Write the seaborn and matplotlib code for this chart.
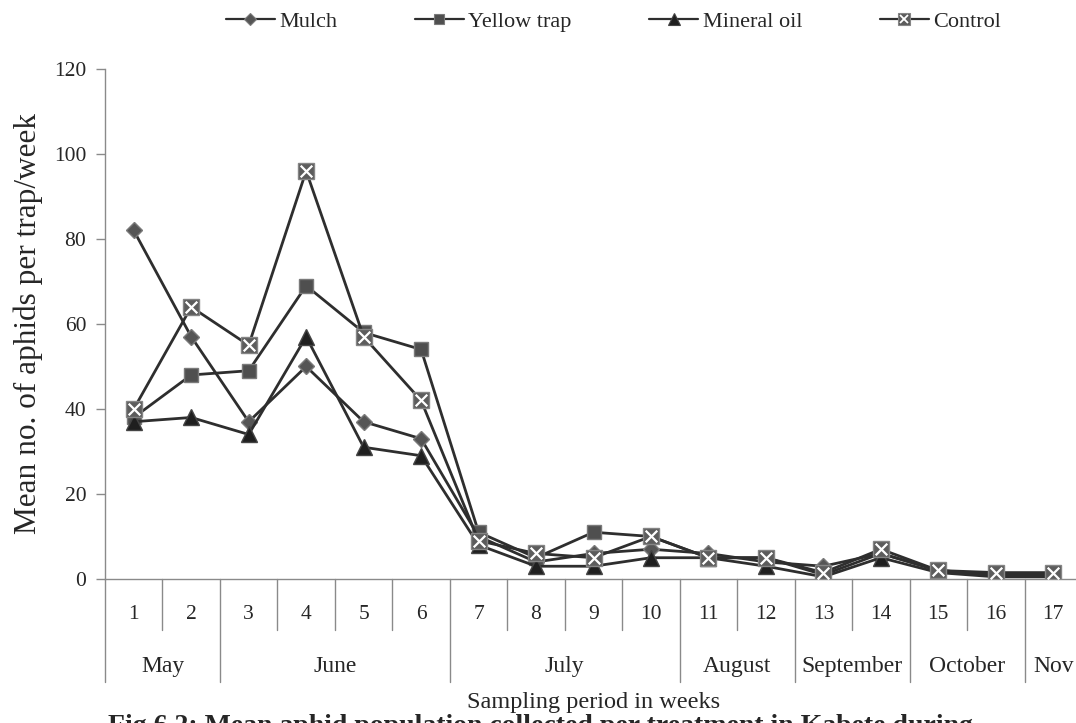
import matplotlib
matplotlib.use("Agg")
import matplotlib.pyplot as plt
import matplotlib.transforms as mtransforms
from matplotlib.lines import Line2D
from matplotlib.legend_handler import HandlerTuple
import seaborn as sns
import pandas as pd

# Weekly sampling data
weeks = list(range(1, 18))
mulch = [82, 57, 37, 50, 37, 33, 10, 4, 6, 7, 6, 4, 3, 6, 2, 1, 1]
yellow_trap = [38, 48, 49, 69, 58, 54, 11, 5, 11, 10, 5, 5, 1, 6, 2, 1, 1]
mineral_oil = [37, 38, 34, 57, 31, 29, 8, 3, 3, 5, 5, 3, 0.5, 5, 1.5, 0.5, 0.5]
control = [40, 64, 55, 96, 57, 42, 9, 6, 5, 10, 5, 5, 1.5, 7, 2, 1.5, 1.5]

# Month groups along the x axis: (name, first week, last week)
months = [("May", 1, 2), ("June", 3, 6), ("July", 7, 10), ("August", 11, 12),
          ("September", 13, 14), ("October", 15, 16), ("Nov", 17, 17)]

y_ticks = [0, 20, 40, 60, 80, 100, 120]

sns.set_style("white")
plt.rcParams["font.family"] = ["Liberation Serif", "DejaVu Serif"]

fig = plt.figure(figsize=(10.76, 7.23), dpi=100)
ax = fig.add_axes([0.0976, 0.1992, 0.908, 0.7054])

line_col = "#2e2e2e"
styles = [
    ("Mulch", mulch, dict(marker="D", markersize=8.5, markerfacecolor="#555555",
                          markeredgecolor="#7a7a7a")),
    ("Yellow trap", yellow_trap, dict(marker="s", markersize=10.5, markerfacecolor="#4f4f4f",
                                      markeredgecolor="#7a7a7a")),
    ("Mineral oil", mineral_oil, dict(marker="^", markersize=12, markerfacecolor="#1f1f1f",
                                      markeredgecolor="#444444")),
    ("Control", control, dict(marker="s", markersize=12, markerfacecolor="#5c5c5c",
                              markeredgecolor="#858585")),
]

df = pd.DataFrame({"week": weeks})
for name, vals, kw in styles:
    df[name] = vals
    sns.lineplot(data=df, x="week", y=name, ax=ax, color=line_col, linewidth=2.0,
                 markeredgewidth=1.0, **kw)

# White cross inside the control squares
sns.scatterplot(data=df, x="week", y="Control", ax=ax, marker="x", color="white",
                s=70, linewidth=1.6, zorder=5)

ax.set_xlim(0.5, 17.5)
ax.set_ylim(0, 120)
ax.set_yticks(y_ticks)
ax.set_yticklabels([str(t) for t in y_ticks], fontsize=15.5)
ax.set_xticks([])
ax.set_xlabel("")
ax.set_ylabel("Mean no. of aphids per trap/week", fontsize=22.5, labelpad=8)

for side in ["top", "right"]:
    ax.spines[side].set_visible(False)
for side in ["left", "bottom"]:
    ax.spines[side].set_color("#8a8a8a")
    ax.spines[side].set_linewidth(1.0)
ax.tick_params(axis="y", which="major", length=6.5, width=1.0, color="#8a8a8a",
               direction="out", left=True, pad=7)

# Category axis: week numbers, month names and separators below the plot
trans = mtransforms.blended_transform_factory(ax.transData, ax.transAxes)
for w in weeks:
    ax.text(w, -0.0706, str(w), transform=trans, ha="center", va="center", fontsize=15.5)
month_edges = {m[1] - 0.5 for m in months}
for b in [w - 0.5 for w in weeks] + [17.5]:
    y_end = -0.202 if b in month_edges or b == 17.5 else -0.1
    ax.plot([b, b], [0, y_end], transform=trans, color="#8a8a8a", linewidth=1.0,
            clip_on=False)
for name, start, end in months:
    ax.text((start + end) / 2, -0.171, name, transform=trans, ha="center", va="center",
            fontsize=17)

ax.text(0.5, -0.243, "Sampling period in weeks", transform=ax.transAxes,
        ha="center", va="center", fontsize=17.5)
fig.text(0.1, 0.0125, "Fig 6.2: Mean aphid population collected per treatment in Kabete during",
         ha="left", va="top", fontsize=20, fontweight="bold")

# Legend
handles = []
for name, vals, kw in styles:
    h = Line2D([], [], color=line_col, linewidth=1.6, markeredgewidth=0.8,
               **{**kw, "markersize": kw["markersize"] * 0.7})
    handles.append(h)
cross = Line2D([], [], linestyle="none", marker="x", color="white", markersize=6,
               markeredgewidth=1.3)
handles[3] = (handles[3], cross)
fig.legend(handles, [s[0] for s in styles], loc="upper center", bbox_to_anchor=(0.57, 1.012),
           ncol=4, frameon=False, fontsize=16, handlelength=2.2, handletextpad=0.2,
           columnspacing=3.5, handler_map={tuple: HandlerTuple(ndivide=1)})

fig.savefig("out.png", dpi=100, facecolor="white")
